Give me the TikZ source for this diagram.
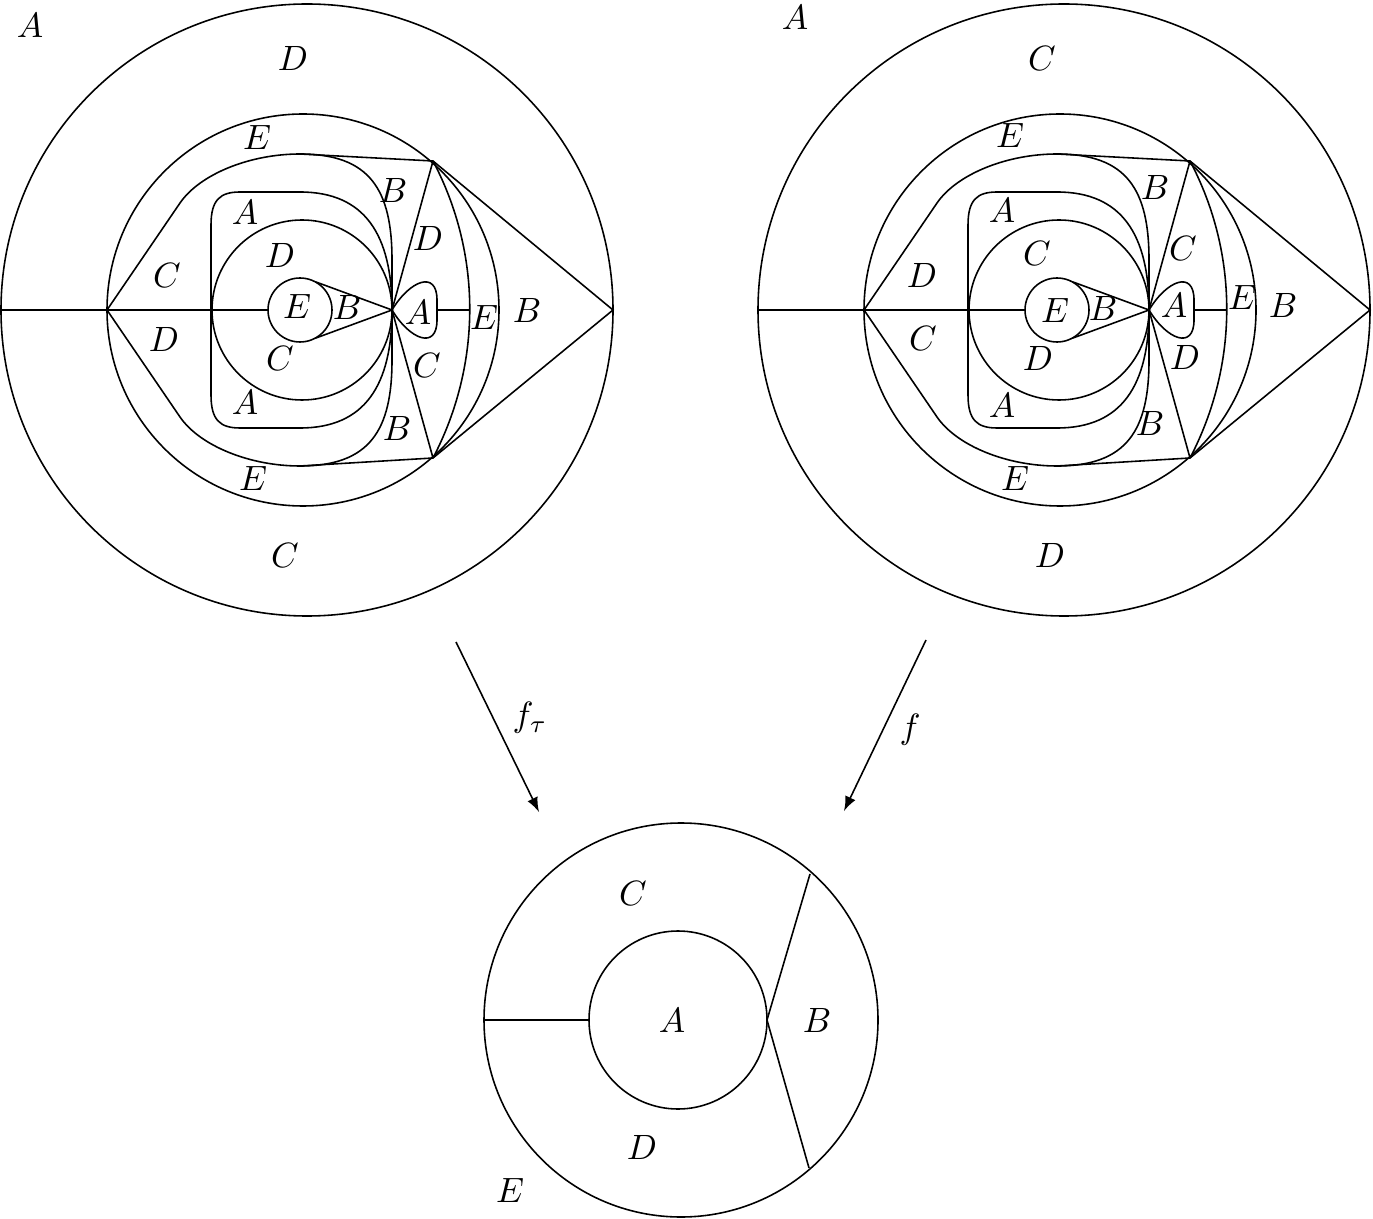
\documentclass[tikz,border=0pt]{standalone}
\begin{document}
\begin{tikzpicture}[>=latex, x=0.01cm, y=-0.01cm, line width=0.45pt]
\useasboundingbox (0,0) rectangle (1373,1219);
% the two upper discs share one drawing
\foreach \sx in {0,757}{
  \begin{scope}[shift={(\sx,0)}]
    \coordinate (L) at (107,310); \coordinate (R) at (613,310);
    \coordinate (P) at (392,310);
    \coordinate (V1) at (433,161); \coordinate (V2) at (433,458);
    \coordinate (T1) at (300,154); \coordinate (T2) at (300,466);
    \draw (307,310) circle[radius=306];
    \draw (303,310) circle[radius=196];
    \draw (302,310) circle[radius=90];
    \draw (300,310) circle[radius=32];
    \draw (1,310) -- (L) -- (268,310);
    \draw (316,282) -- (P) -- (316,338);
    % shield
    \draw (P) -- (392,260) .. controls (392,190) and (370,154) .. (T1)
          .. controls (250,154) and (200,174) .. (180,203) -- (L)
          -- (180,417) .. controls (200,446) and (250,466) .. (T2)
          .. controls (370,466) and (392,430) .. (392,360) -- (P);
    % loop through the pinch
    \draw (P) .. controls (392,235) and (365,192) .. (300,192) -- (240,192)
          .. controls (220,192) and (211,200) .. (211,225) -- (211,395)
          .. controls (211,420) and (220,428) .. (240,428) -- (300,428)
          .. controls (365,428) and (392,385) .. (P);
    \draw (T1) -- (V1) -- (R) -- (V2) -- (T2);
    \draw (V1) -- (P) -- (V2);
    \draw (V1) .. controls (482,254) and (482,364) .. (V2);
    % small loop
    \draw (P) .. controls (410,280) and (437,270) .. (437,300) -- (437,320)
          .. controls (437,350) and (410,340) .. (P);
    \draw (437,310) -- (470,310);
  \end{scope}
}
% labels, left disc
\node (lOut) at (30,25) {$A$};
\node (lTop) at (293,58) {$D$};
\node (lBot) at (285,555) {$C$};
\node (lE1) at (257,137) {$E$};
\node (lE2) at (253,478) {$E$};
\node (lB1) at (393,190) {$B$};
\node (lB2) at (397,428) {$B$};
\node (lA1) at (245,212) {$A$};
\node (lA2) at (245,402) {$A$};
\node (lD1) at (428,238) {$D$};
\node (lC1) at (427,365) {$C$};
\node (lD2) at (280,255) {$D$};
\node (lC2) at (280,358) {$C$};
\node (lC3) at (167,275) {$C$};
\node (lD3) at (164,339) {$D$};
\node (lE0) at (297,306) {$E$};
\node (lB0) at (347,307) {$B$};
\node (lA0) at (418,312) {$A$};
\node (lE3) at (484,317) {$E$};
\node (lB3) at (527,310) {$B$};
% labels, right disc
\node (rOut) at (795,17) {$A$};
\node (rTop) at (1042,58) {$C$};
\node (rBot) at (1050,555) {$D$};
\node (rE1) at (1010,135) {$E$};
\node (rE2) at (1015,478) {$E$};
\node (rB1) at (1155,187) {$B$};
\node (rB2) at (1150,423) {$B$};
\node (rA1) at (1002,210) {$A$};
\node (rA2) at (1002,405) {$A$};
\node (rC1) at (1183,248) {$C$};
\node (rD1) at (1185,357) {$D$};
\node (rC2) at (1037,253) {$C$};
\node (rD2) at (1038,358) {$D$};
\node (rD3) at (922,275) {$D$};
\node (rC3) at (923,338) {$C$};
\node (rE0) at (1055,310) {$E$};
\node (rB0) at (1103,308) {$B$};
\node (rA0) at (1174,305) {$A$};
\node (rE3) at (1242,297) {$E$};
\node (rB3) at (1283,305) {$B$};
% maps
\coordinate (ftS) at (456,642); \coordinate (ftE) at (539,812);
\coordinate (fS) at (926,640); \coordinate (fE) at (844,811);
\draw[->] (ftS) -- (ftE);
\draw[->] (fS) -- (fE);
\node (ft) at (530,718) {$f_\tau$};
\node (f) at (910,730) {$f$};
% lower disc
\coordinate (Q) at (767,1020);
\draw (681,1020) circle[radius=197];
\draw (678,1020) circle[radius=89];
\draw (484,1020) -- (589,1020);
\draw (810,874) -- (Q) -- (809,1168);
\node (bC) at (633,893) {$C$};
\node (bA) at (672,1020) {$A$};
\node (bB) at (817,1020) {$B$};
\node (bD) at (642,1147) {$D$};
\node (bE) at (510,1190) {$E$};
\end{tikzpicture}
\end{document}
